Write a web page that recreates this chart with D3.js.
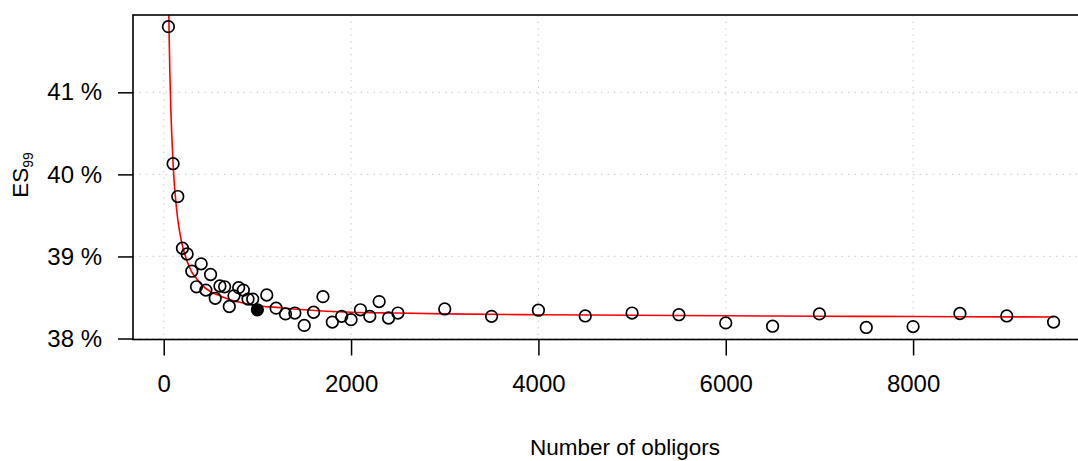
<!DOCTYPE html>
<html lang="en">
<head>
<meta charset="utf-8">
<script src="https://d3js.org/d3.v7.min.js"></script>
<style>
body { margin: 0; background: #fff; }
svg { font-family: "Liberation Sans", Arial, sans-serif; }
.grid line { stroke: #d3d3d3; stroke-width: 1.2; stroke-dasharray: 1.5,5; }
.axis path { display: none; }
.axis line { stroke: #000; stroke-width: 1.5; }
.axis text { font-size: 24px; fill: #000; }
</style>
</head>
<body>
<script>
// number of obligors and simulated ES99 (in %)
var obligors = [50, 100, 150, 200, 250, 300, 350, 400, 450, 500, 550, 600, 650, 700, 750, 800, 850, 900, 950, 1000,
  1100, 1200, 1300, 1400, 1500, 1600, 1700, 1800, 1900, 2000, 2100, 2200, 2300, 2400, 2500,
  3000, 3500, 4000, 4500, 5000, 5500, 6000, 6500, 7000, 7500, 8000, 8500, 9000, 9500];
var es99 = [41.80, 40.13, 39.73, 39.10, 39.03, 38.82, 38.63, 38.91, 38.59, 38.78, 38.49, 38.64, 38.63, 38.39, 38.52, 38.62, 38.59, 38.48, 38.48, 38.35,
  38.53, 38.37, 38.30, 38.31, 38.16, 38.32, 38.51, 38.20, 38.27, 38.23, 38.35, 38.27, 38.45, 38.25, 38.31,
  38.36, 38.27, 38.345, 38.275, 38.31, 38.29, 38.19, 38.15, 38.30, 38.135, 38.145, 38.305, 38.275, 38.20];
var highlight = 1000;

// fitted curve (red)
var fitX = [50, 58, 65, 75, 85, 100, 115, 130, 150, 175, 200, 250, 300, 350, 400, 500, 600, 700, 800, 1000,
  1200, 1500, 2000, 2500, 3000, 4000, 5000, 6000, 7000, 8000, 9000, 9500];
var fitY = [42.27, 41.67, 41.27, 40.83, 40.50, 40.13, 39.86, 39.66, 39.45, 39.27, 39.13, 38.94, 38.81, 38.73, 38.66, 38.57, 38.52, 38.475, 38.445, 38.40,
  38.38, 38.35, 38.32, 38.31, 38.30, 38.29, 38.283, 38.277, 38.272, 38.268, 38.264, 38.262];

var xTicks = [0, 2000, 4000, 6000, 8000];
var yTicks = [38, 39, 40, 41];
var yTickLabels = ["38 %", "39 %", "40 %", "41 %"];

var W = 1078, H = 461;
var plot = {left: 133, top: 15, right: 1089, bottom: 339.5};

var x = d3.scaleLinear().domain([-328, 9878]).range([plot.left, plot.right]);
var y = d3.scaleLinear().domain([37.988, 41.942]).range([plot.bottom, plot.top]);

var svg = d3.select("body").append("svg")
    .attr("width", W)
    .attr("height", H);

svg.append("defs").append("clipPath")
    .attr("id", "clip")
  .append("rect")
    .attr("x", plot.left)
    .attr("y", plot.top)
    .attr("width", plot.right - plot.left)
    .attr("height", plot.bottom - plot.top);

// grid
var grid = svg.append("g").attr("class", "grid");
grid.selectAll(".gx").data(xTicks).enter().append("line")
    .attr("x1", function(d){ return x(d); })
    .attr("x2", function(d){ return x(d); })
    .attr("y1", plot.top)
    .attr("y2", plot.bottom);
grid.selectAll(".gy").data(yTicks).enter().append("line")
    .attr("x1", plot.left)
    .attr("x2", plot.right)
    .attr("y1", function(d){ return y(d); })
    .attr("y2", function(d){ return y(d); });

// axes
svg.append("g")
    .attr("class", "axis")
    .attr("transform", "translate(0," + plot.bottom + ")")
    .call(d3.axisBottom(x).tickValues(xTicks).tickSize(16).tickPadding(19).tickFormat(d3.format("d")));

svg.append("g")
    .attr("class", "axis")
    .attr("transform", "translate(" + plot.left + ",0)")
    .call(d3.axisLeft(y).tickValues(yTicks).tickSize(15).tickPadding(16)
      .tickFormat(function(d, i){ return yTickLabels[i]; }));

// fitted curve
var line = d3.line()
    .x(function(d){ return x(d[0]); })
    .y(function(d){ return y(d[1]); })
    .curve(d3.curveMonotoneX);

svg.append("path")
    .datum(d3.zip(fitX, fitY))
    .attr("clip-path", "url(#clip)")
    .attr("d", line)
    .attr("fill", "none")
    .attr("stroke", "#ff0000")
    .attr("stroke-width", 1.6);

// points
svg.append("g").selectAll("circle")
    .data(d3.zip(obligors, es99))
    .enter().append("circle")
    .attr("cx", function(d){ return x(d[0]); })
    .attr("cy", function(d){ return y(d[1]); })
    .attr("r", 5.8)
    .attr("fill", function(d){ return d[0] == highlight ? "#000" : "none"; })
    .attr("stroke", "#000")
    .attr("stroke-width", 1.7);

// box
svg.append("rect")
    .attr("x", plot.left)
    .attr("y", plot.top)
    .attr("width", plot.right - plot.left)
    .attr("height", plot.bottom - plot.top)
    .attr("fill", "none")
    .attr("stroke", "#000")
    .attr("stroke-width", 1.6);

// axis titles
svg.append("text")
    .attr("x", 625)
    .attr("y", 455)
    .attr("text-anchor", "middle")
    .style("font-size", "22.5px")
    .text("Number of obligors");

var ylab = svg.append("text")
    .attr("transform", "translate(28,175) rotate(-90)")
    .attr("text-anchor", "middle")
    .style("font-size", "22.5px");
ylab.append("tspan").text("ES");
ylab.append("tspan").attr("dy", 5).style("font-size", "14px").text("99");
</script>
</body>
</html>
